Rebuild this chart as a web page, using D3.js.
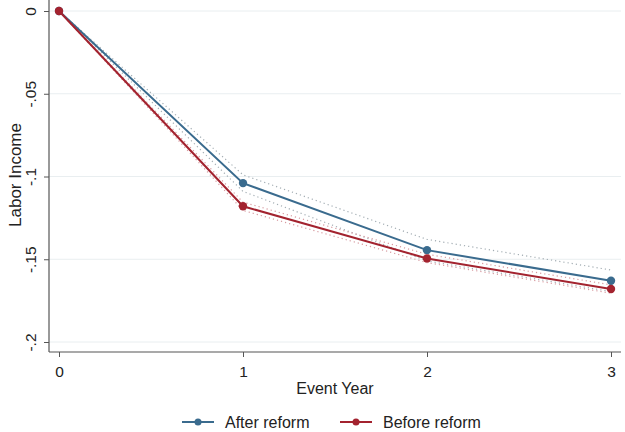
<!DOCTYPE html>
<html>
<head>
<meta charset="utf-8">
<script src="https://cdn.jsdelivr.net/npm/d3@7"></script>
<style>
  html, body { margin: 0; padding: 0; background: #fff; }
  svg { display: block; font-family: "Liberation Sans", Arial, sans-serif; }
</style>
</head>
<body>
<svg id="chart" width="625" height="432"></svg>
<script>
// Event-study estimates of labor income by event year
const eventYears = [0, 1, 2, 3];
const afterReform = [0, -0.104, -0.1445, -0.163];
const afterUpper = [0, -0.099, -0.138, -0.1565];
const afterLower = [0, -0.109, -0.151, -0.1695];
const beforeReform = [0, -0.118, -0.1495, -0.168];
const beforeUpper = [0, -0.1155, -0.147, -0.1655];
const beforeLower = [0, -0.1205, -0.152, -0.1705];
const yTicks = [0, -0.05, -0.1, -0.15, -0.2];
const yTickLabels = ["0", "-.05", "-.1", "-.15", "-.2"];
const xTickLabels = ["0", "1", "2", "3"];

const svg = d3.select("#chart");
const plotLeft = 49, plotRight = 621, plotTop = 0, plotBottom = 352;

const x = d3.scaleLinear().domain([0, 3]).range([59, 611]);
const y = d3.scaleLinear().domain([0, -0.2]).range([11, 342]);

const blue = "#3a6b8e";
const red = "#a3232f";
const textColor = "#222";

// horizontal gridlines
svg.append("g").selectAll("line").data(yTicks).join("line")
  .attr("x1", plotLeft).attr("x2", plotRight)
  .attr("y1", d => y(d)).attr("y2", d => y(d))
  .attr("stroke", "#e9eef0").attr("stroke-width", 1);

// y axis
const yAxis = d3.axisLeft(y).tickValues(yTicks)
  .tickFormat((d, i) => yTickLabels[i]).tickSize(5).tickPadding(0);
const gy = svg.append("g").attr("transform", `translate(${plotLeft},0)`).call(yAxis);
gy.select(".domain").attr("d", `M0,${plotTop}V${plotBottom}`).attr("stroke", "#555").attr("stroke-width", 1.2);
gy.selectAll(".tick line").attr("stroke", "#555");
gy.selectAll(".tick text")
  .attr("transform", "rotate(-90)")
  .attr("x", 0).attr("y", -13)
  .attr("dy", 0)
  .attr("text-anchor", "middle")
  .attr("font-size", 15.5).attr("fill", textColor)
  .attr("font-family", "Liberation Sans, Arial, sans-serif");

// x axis
const xAxis = d3.axisBottom(x).tickValues(eventYears)
  .tickFormat((d, i) => xTickLabels[i]).tickSize(5).tickPadding(9);
const gx = svg.append("g").attr("transform", `translate(0,${plotBottom})`).call(xAxis);
gx.select(".domain").attr("d", `M${plotLeft},0H${plotRight}`).attr("stroke", "#555").attr("stroke-width", 1.2);
gx.selectAll(".tick line").attr("stroke", "#555");
gx.selectAll(".tick text").attr("font-size", 15.5).attr("fill", textColor)
  .attr("font-family", "Liberation Sans, Arial, sans-serif");

// axis titles
svg.append("text").attr("x", 335).attr("y", 394)
  .attr("text-anchor", "middle").attr("font-size", 16).attr("fill", textColor)
  .text("Event Year");
svg.append("text")
  .attr("transform", `translate(21,175) rotate(-90)`)
  .attr("text-anchor", "middle").attr("font-size", 17).attr("fill", textColor)
  .text("Labor Income");

const line = d3.line().x((d, i) => x(eventYears[i])).y(d => y(d));

// confidence bands as dotted lines
function ci(values, color) {
  svg.append("path").datum(values).attr("d", line)
    .attr("fill", "none").attr("stroke", color).attr("stroke-width", 1.2)
    .attr("stroke-dasharray", "1.2,3");
}
ci(afterUpper, "#a3adb3");
ci(afterLower, "#a3adb3");
ci(beforeUpper, "#d79aa0");
ci(beforeLower, "#d79aa0");

function series(values, color) {
  svg.append("path").datum(values).attr("d", line)
    .attr("fill", "none").attr("stroke", color).attr("stroke-width", 2);
  svg.append("g").selectAll("circle").data(values).join("circle")
    .attr("cx", (d, i) => x(eventYears[i])).attr("cy", d => y(d))
    .attr("r", 4.2).attr("fill", color);
}
series(afterReform, blue);
series(beforeReform, red);

// legend
const legendItems = [
  { label: "After reform", color: blue, x: 182 },
  { label: "Before reform", color: red, x: 340 }
];
const lg = svg.append("g").selectAll("g").data(legendItems).join("g")
  .attr("transform", d => `translate(${d.x},422)`);
lg.append("line").attr("x1", 0).attr("x2", 32).attr("y1", 0).attr("y2", 0)
  .attr("stroke", d => d.color).attr("stroke-width", 2);
lg.append("circle").attr("cx", 16).attr("cy", 0).attr("r", 3.5).attr("fill", d => d.color);
lg.append("text").attr("x", 43).attr("y", 6).attr("font-size", 16).attr("fill", textColor)
  .text(d => d.label);
</script>
</body>
</html>
